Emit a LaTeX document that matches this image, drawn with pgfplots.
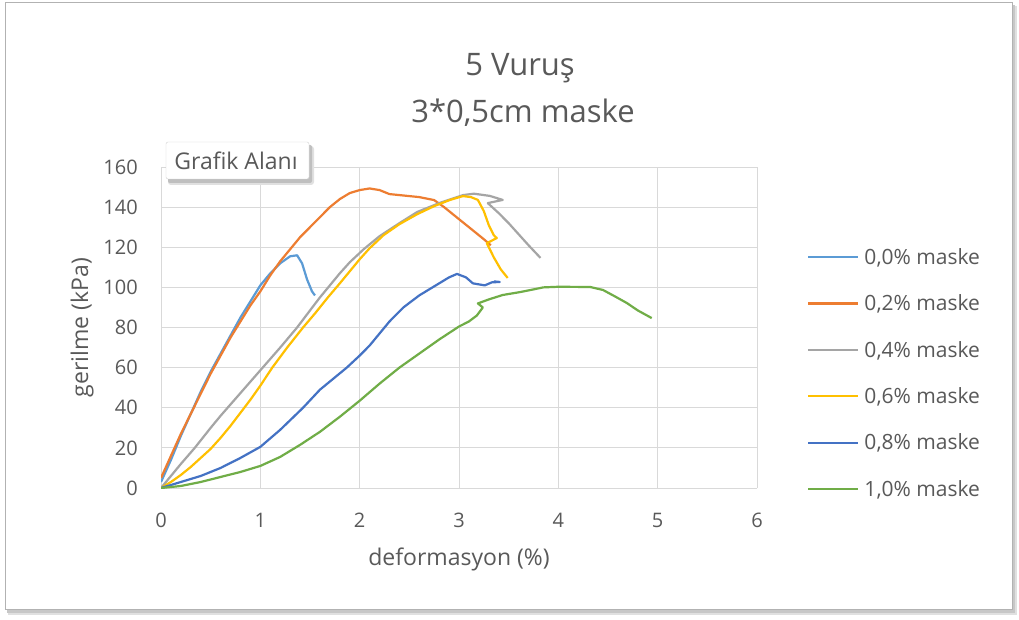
\documentclass[border=0pt]{standalone}
\usepackage{pgfplots}
\pgfplotsset{compat=1.18}
\usepackage{fontspec}
\setmainfont{Open Sans}
\definecolor{s1}{HTML}{5B9BD5}
\definecolor{s2}{HTML}{ED7D31}
\definecolor{s3}{HTML}{A5A5A5}
\definecolor{s4}{HTML}{FFC000}
\definecolor{s5}{HTML}{4472C4}
\definecolor{s6}{HTML}{70AD47}
\definecolor{txt}{HTML}{595959}
\definecolor{grd}{HTML}{D9D9D9}
\begin{document}
\begin{tikzpicture}
\path[use as bounding box] (0pt,0pt) rectangle (1019pt,619pt);
\fill[white] (0pt,0pt) rectangle (1019pt,619pt);
% frame with shadow
\fill[black!12] (8pt,4pt) rectangle (1017pt,613pt);
\fill[black!22] (7pt,6pt) rectangle (1015pt,614pt);
\fill[white] (5pt,10pt) rectangle (1012pt,616pt);
\draw[black!30, line width=1pt] (5pt,10pt) rectangle (1012pt,616pt);
% title
\node[anchor=base, text=txt, font=\fontsize{31}{36}\selectfont] at (520pt,543pt) {5 Vuruş};
\node[anchor=base, text=txt, font=\fontsize{31}{36}\selectfont] at (523pt,496pt) {3*0,5cm maske};
\coordinate (O) at (161pt,131pt);
\begin{axis}[
  at={(O)}, anchor=origin,
  scale only axis, width=596pt, height=321pt,
  xmin=0, xmax=6, ymin=0, ymax=160,
  xtick={0,1,2,3,4,5,6}, ytick={0,20,40,60,80,100,120,140,160},
  grid=major, major grid style={grd, line width=1pt},
  axis line style={draw=none}, major tick length=0pt,
  /pgf/number format/assume math mode=true,
  tick label style={font=\fontsize{20}{20}\selectfont, text=txt, inner sep=0pt},
  yticklabel style={xshift=-23pt},
  xticklabel style={yshift=-25pt},
  xlabel={deformasyon (\%)}, ylabel={gerilme (kPa)},
  label style={font=\fontsize{23}{23}\selectfont, text=txt},
  xlabel style={at={(axis description cs:0.5,-0.224)}, anchor=center},
  ylabel style={at={(axis description cs:-0.1325,0.5)}, anchor=center},
  every axis plot/.append style={line width=2.2pt, line join=round, no markers},
  legend style={at={(1.079,0.358)}, anchor=west, draw=none, fill=none,
    font=\fontsize{21}{21}\selectfont, text=txt, row sep=25pt, column sep=3pt,
    nodes={inner sep=2pt}},
  legend cell align=left,
  legend image code/.code={\draw[#1, line width=2.2pt] (0pt,0pt) -- (50pt,0pt);},
]
\addplot[s1] coordinates {(0,3)(0.1,14)(0.2,26)(0.3,37)(0.4,48)(0.5,58)(0.6,67)(0.7,76)(0.8,85)(0.9,93)(1.0,101)(1.1,107)(1.2,112)(1.3,115.5)(1.37,116)(1.42,112)(1.47,104)(1.52,98)(1.55,96)};
\addlegendentry{0,0\% maske}
\addplot[s2] coordinates {(0,5)(0.1,16)(0.2,27)(0.3,37)(0.4,47)(0.5,57)(0.6,66)(0.7,75)(0.8,83)(0.9,91)(1.0,98)(1.1,106)(1.2,113)(1.3,119)(1.4,125)(1.5,130)(1.6,135)(1.7,140)(1.8,144)(1.9,147)(2.0,148.5)(2.1,149.3)(2.2,148.5)(2.3,146.5)(2.4,146)(2.6,145)(2.75,143.5)(2.85,140)(2.95,136)(3.05,132)(3.15,128)(3.25,124)(3.32,121)};
\addlegendentry{0,2\% maske}
\addplot[s3] coordinates {(0,0)(0.1,6)(0.2,12)(0.34,20)(0.5,30)(0.6,36)(0.75,44.5)(0.9,53)(1.05,61.5)(1.2,70)(1.37,80)(1.5,88.5)(1.6,95)(1.7,101)(1.8,107)(1.9,112.5)(2.04,119)(2.2,125.5)(2.4,132)(2.58,137.6)(2.8,142)(3.04,146)(3.15,146.7)(3.31,145.6)(3.44,143.6)(3.29,142)(3.4,137)(3.5,132)(3.6,126.5)(3.7,121)(3.82,114.7)};
\addlegendentry{0,4\% maske}
\addplot[s4] coordinates {(0,0)(0.1,3)(0.2,6.5)(0.3,10.5)(0.4,15)(0.5,19.5)(0.6,25)(0.7,31)(0.8,37.5)(0.9,44)(1.0,51)(1.12,60)(1.27,70)(1.43,80)(1.55,87)(1.68,95)(1.8,102)(1.9,108)(2.0,114)(2.1,119.5)(2.24,126)(2.4,131.5)(2.58,136.5)(2.75,140.5)(2.91,143.6)(3.04,145.5)(3.12,145)(3.19,143.6)(3.25,138)(3.3,131)(3.35,126)(3.38,124.6)(3.28,122)(3.35,115)(3.42,109)(3.49,104.7)};
\addlegendentry{0,6\% maske}
\addplot[s5] coordinates {(0,0)(0.2,3)(0.4,6)(0.6,10)(0.8,15)(1.0,20.5)(1.2,29)(1.43,40)(1.6,49)(1.87,60)(2.0,66)(2.1,71)(2.2,77)(2.3,83)(2.44,90)(2.6,96)(2.8,102)(2.9,105)(2.98,106.7)(3.07,105)(3.14,102)(3.26,101)(3.33,102.5)(3.41,102.7)(3.35,103)};
\addlegendentry{0,8\% maske}
\addplot[s6] coordinates {(0,0)(0.2,1)(0.4,3)(0.6,5.5)(0.8,8)(1.0,11)(1.2,15.5)(1.4,21.5)(1.6,28)(1.8,35.5)(2.0,43.5)(2.2,52)(2.4,60)(2.6,67)(2.8,74)(3.0,80.5)(3.1,83)(3.18,86)(3.24,90)(3.19,92)(3.3,94)(3.44,96.2)(3.62,97.7)(3.85,100)(4.0,100.3)(4.32,100.2)(4.45,98.7)(4.57,95.5)(4.69,92.2)(4.8,88.5)(4.94,84.7)};
\addlegendentry{1,0\% maske}
\end{axis}
% tooltip box
\fill[black!12, rounded corners=3pt] (168pt,434pt) rectangle (314pt,473pt);
\fill[black!25, rounded corners=2pt] (168pt,436pt) rectangle (312pt,474pt);
\fill[white, rounded corners=2pt] (166pt,440pt) rectangle (309pt,477pt);
\draw[black!18, rounded corners=2pt] (166pt,440pt) rectangle (309pt,477pt);
\node[text=txt, font=\fontsize{23}{23}\selectfont] at (236pt,458pt) {Grafik Alanı};
\end{tikzpicture}
\end{document}
